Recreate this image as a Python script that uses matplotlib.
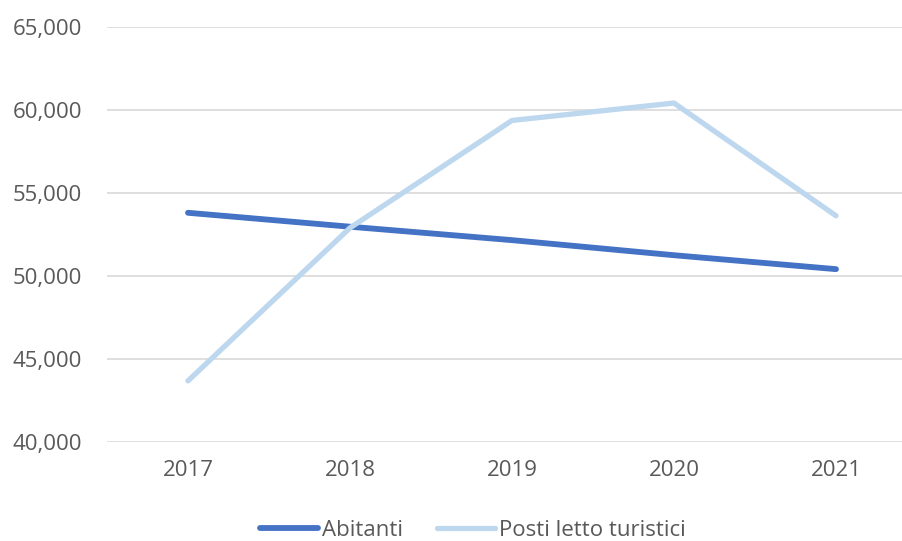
import matplotlib.pyplot as plt
from matplotlib.ticker import FuncFormatter

# Values
years = ['2017', '2018', '2019', '2020', '2021']
abitanti = [53810, 52970, 52160, 51250, 50410]
posti_letto = [43670, 52900, 59380, 60430, 53630]

plt.rcParams['font.family'] = ['Open Sans', 'DejaVu Sans']

fig = plt.figure(figsize=(9.03, 5.41), dpi=100)
ax = fig.add_axes([107 / 903, 1 - 441.7 / 541, 810 / 903, 414.4 / 541])

x = range(len(years))
ax.plot(x, abitanti, color='#4472C4', linewidth=4.2, solid_capstyle='round', label='Abitanti', zorder=3)
ax.plot(x, posti_letto, color='#BDD7EE', linewidth=3.8, solid_capstyle='round',
        label='Posti letto turistici', zorder=3)

ax.set_xlim(-0.5, len(years) - 0.5)
ax.set_ylim(40000, 65000)
ax.set_yticks(range(40000, 65001, 5000))
ax.yaxis.set_major_formatter(FuncFormatter(lambda v, p: f"{int(v):,}"))
ax.set_xticks(list(x))
ax.set_xticklabels(years)

ax.grid(axis='y', color='#D9D9D9', linewidth=1.2)
ax.set_axisbelow(True)
for s in ax.spines.values():
    s.set_visible(False)
ax.tick_params(axis='y', length=0, pad=18, labelsize=16, labelcolor='#595959')
ax.tick_params(axis='x', length=0, pad=13, labelsize=16, labelcolor='#595959')

leg = fig.legend(loc='center', bbox_to_anchor=(473 / 903, 1 - 530 / 541), ncol=2, frameon=False,
                 fontsize=16, handlelength=2.6, handletextpad=0.2, columnspacing=1.5)
for t in leg.get_texts():
    t.set_color('#595959')

fig.savefig('out.png', dpi=100)
